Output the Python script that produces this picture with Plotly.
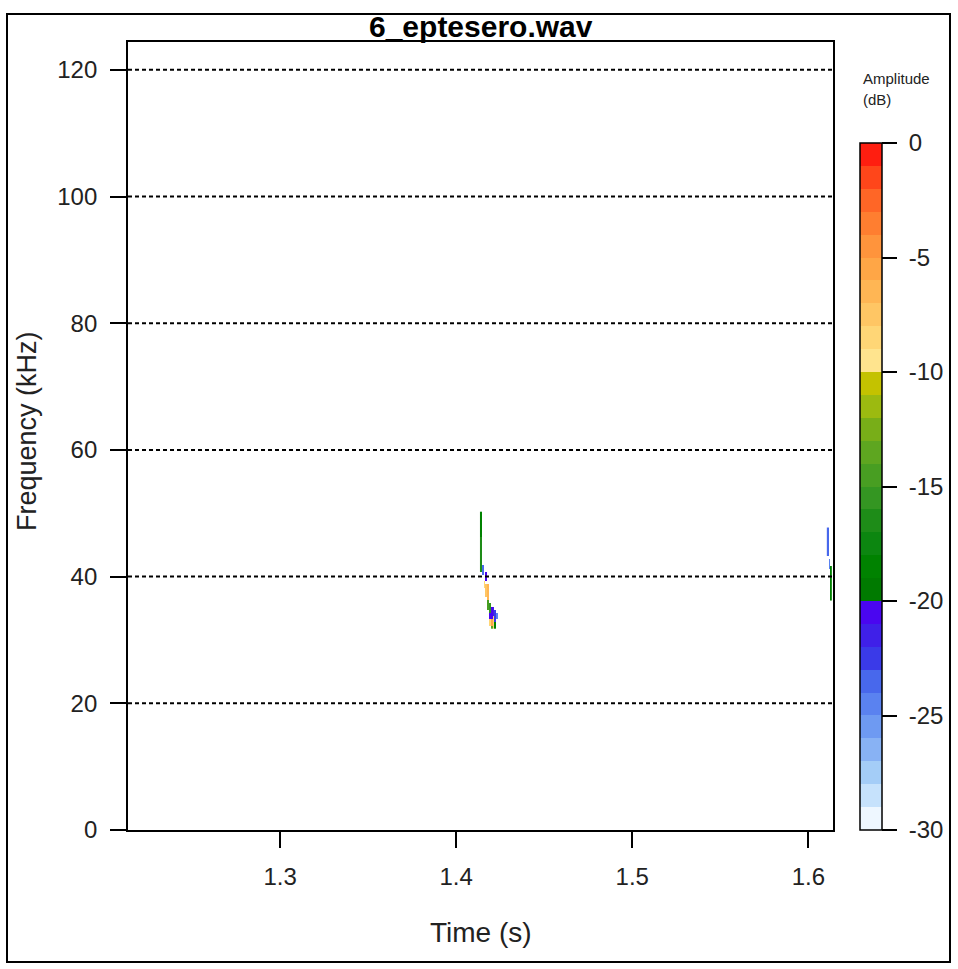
import plotly.graph_objects as go

# ---------------- data ----------------
TITLE = "6_eptesero.wav"
X_TICKS = [1.3, 1.4, 1.5, 1.6]
Y_TICKS = [0, 20, 40, 60, 80, 100, 120]
GRID_FREQS = [20, 40, 60, 80, 100, 120]
CB_TICKS = [0, -5, -10, -15, -20, -25, -30]
X_RANGE = [1.2136, 1.614]
Y_RANGE = [0, 124.4]
DB_MIN, DB_MAX = -30, 0

# spectrogram cell grid resolution (s, kHz)
DT = 0.001
DF = 0.5

# call 1 (around 1.42 s): column time, freq low, freq high, amplitude dB
CALL1_T = [1.414, 1.414, 1.415, 1.416, 1.417, 1.417, 1.418, 1.418, 1.419, 1.419, 1.419,
           1.420, 1.420, 1.420, 1.421, 1.421, 1.422, 1.422, 1.423]
CALL1_LO = [46.5, 41.0, 40.5, 38.5, 39.5, 37.0, 36.5, 35.0, 34.5, 33.5, 32.5,
            33.5, 32.5, 32.0, 34.0, 32.0, 33.0, 32.0, 33.5]
CALL1_HI = [50.0, 46.0, 41.5, 39.0, 40.5, 38.5, 38.5, 36.0, 35.5, 34.0, 33.0,
            35.0, 33.0, 32.0, 35.0, 33.5, 34.5, 32.5, 34.0]
CALL1_DB = [-19, -17, -24, -9, -21, -8, -7, -15, -16, -21, -9,
            -21, -6, -14, -22, -9, -23, -19, -25]

# call 2 (cut at right edge, ~1.612 s)
CALL2_T = [1.611, 1.612, 1.613]
CALL2_LO = [43.5, 41.5, 36.5]
CALL2_HI = [47.5, 42.5, 41.5]
CALL2_DB = [-24, -25, -19]

# 1-dB colour bands from -30 to 0 dB
BAND_COLORS = [
    "#EEF7FF", "#C6E2FC", "#A4CDF7", "#88B2F4", "#6E9AF2",
    "#5A82F0", "#4868EC", "#3A3AE8", "#3F20E8", "#4A06F0",
    "#007A00", "#008200", "#0C8610", "#1E8C18", "#349622",
    "#489E22", "#5EA620", "#78AE18", "#9CBA10", "#C4C200",
    "#FFE48E", "#FFD676", "#FFC664", "#FFB654", "#FFA646",
    "#FF943C", "#FF7E30", "#FF6626", "#FF461A", "#FF1E10",
]

FONT = "Liberation Sans, Arial, sans-serif"
TXT = "#222222"

# ---------------- figure ----------------
def build_grid(ts, los, his, dbs):
    t0, t1 = min(ts), max(ts)
    f0, f1 = min(los), max(his)
    nt = int(round((t1 - t0) / DT)) + 1
    nf = int(round((f1 - f0) / DF)) + 1
    z = [[None] * nt for _ in range(nf)]
    for t, lo, hi, db in zip(ts, los, his, dbs):
        i = int(round((t - t0) / DT))
        for j in range(int(round((lo - f0) / DF)), int(round((hi - f0) / DF)) + 1):
            z[j][i] = db
    x = [t0 + i * DT for i in range(nt)]
    y = [f0 + j * DF for j in range(nf)]
    return x, y, z


n = len(BAND_COLORS)
colorscale = []
for k, c in enumerate(BAND_COLORS):
    colorscale.append([k / n, c])
    colorscale.append([(k + 1) / n, c])

fig = go.Figure()
for ts, los, his, dbs in [(CALL1_T, CALL1_LO, CALL1_HI, CALL1_DB),
                          (CALL2_T, CALL2_LO, CALL2_HI, CALL2_DB)]:
    x, y, z = build_grid(ts, los, his, dbs)
    fig.add_trace(go.Heatmap(x=x, y=y, z=z, coloraxis="coloraxis",
                             hoverongaps=False))

W, H = 958, 969
L, R, T, B = 128, 958 - 833, 42, 969 - 830
pw, ph = W - L - R, H - T - B

fig.update_layout(
    width=W, height=H,
    margin=dict(l=L, r=R, t=T, b=B, pad=0),
    paper_bgcolor="white", plot_bgcolor="white",
    font=dict(family=FONT, color=TXT),
    showlegend=False,
    coloraxis=dict(
        cmin=DB_MIN, cmax=DB_MAX, colorscale=colorscale,
        colorbar=dict(
            thickness=22, thicknessmode="pixels",
            len=830 - 143, lenmode="pixels",
            x=(860 - L) / pw, xanchor="left", xpad=0,
            y=0, yanchor="bottom", ypad=0,
            outlinecolor="black", outlinewidth=1.5,
            ticks="outside", ticklen=15, tickwidth=1.5, tickcolor="black",
            tickvals=CB_TICKS, ticktext=["\u00a0" + str(v) for v in CB_TICKS],
            tickfont=dict(size=24, family=FONT, color=TXT),
        ),
    ),
    xaxis=dict(
        range=X_RANGE, tickvals=X_TICKS, ticktext=[str(v) for v in X_TICKS],
        showgrid=False, zeroline=False,
        showline=True, mirror=True, linecolor="black", linewidth=1.8,
        ticks="outside", ticklen=16, tickwidth=1.5, tickcolor="black",
        ticklabelstandoff=8,
        tickfont=dict(size=24, family=FONT, color=TXT),
    ),
    yaxis=dict(
        range=Y_RANGE, tickvals=Y_TICKS, ticktext=[str(v) for v in Y_TICKS],
        showgrid=False, zeroline=False,
        showline=True, mirror=True, linecolor="black", linewidth=1.8,
        ticks="outside", ticklen=16, tickwidth=1.5, tickcolor="black",
        ticklabelstandoff=8,
        tickfont=dict(size=24, family=FONT, color=TXT),
    ),
)

# dotted horizontal reference lines (drawn above the spectrogram)
for f in GRID_FREQS:
    fig.add_shape(type="line", xref="paper", yref="y", x0=0, x1=1, y0=f, y1=f,
                  line=dict(color="black", width=2, dash="4px,3px"), layer="above")

# outer frame
fig.add_shape(type="rect", xref="paper", yref="paper",
              x0=(7 - L) / pw, x1=(950 - L) / pw,
              y0=(830 - 962) / ph, y1=(830 - 14) / ph,
              line=dict(color="black", width=2), fillcolor="rgba(0,0,0,0)")

# titles
fig.add_annotation(text="<b>" + TITLE + "</b>", xref="paper", yref="paper",
                   x=0.5, y=1, yshift=16, xanchor="center", yanchor="middle",
                   showarrow=False, font=dict(size=30, family=FONT, color="black"))
fig.add_annotation(text="Time (s)", xref="paper", yref="paper",
                   x=0.5, y=0, yshift=-102, xanchor="center", yanchor="middle",
                   showarrow=False, font=dict(size=28, family=FONT, color=TXT))
fig.add_annotation(text="Frequency (kHz)", xref="paper", yref="paper",
                   x=0, y=0.5, xshift=27 - L, yshift=5, textangle=-90,
                   xanchor="center", yanchor="middle",
                   showarrow=False, font=dict(size=27, family=FONT, color=TXT))
fig.add_annotation(text="Amplitude", xref="paper", yref="paper",
                   x=(861 - L) / pw, y=(830 - 79) / ph, xanchor="left", yanchor="middle",
                   showarrow=False, font=dict(size=15, family=FONT, color=TXT))
fig.add_annotation(text="(dB)", xref="paper", yref="paper",
                   x=(861 - L) / pw, y=(830 - 99) / ph, xanchor="left", yanchor="middle",
                   showarrow=False, font=dict(size=15, family=FONT, color=TXT))

fig.write_html("out.html")
